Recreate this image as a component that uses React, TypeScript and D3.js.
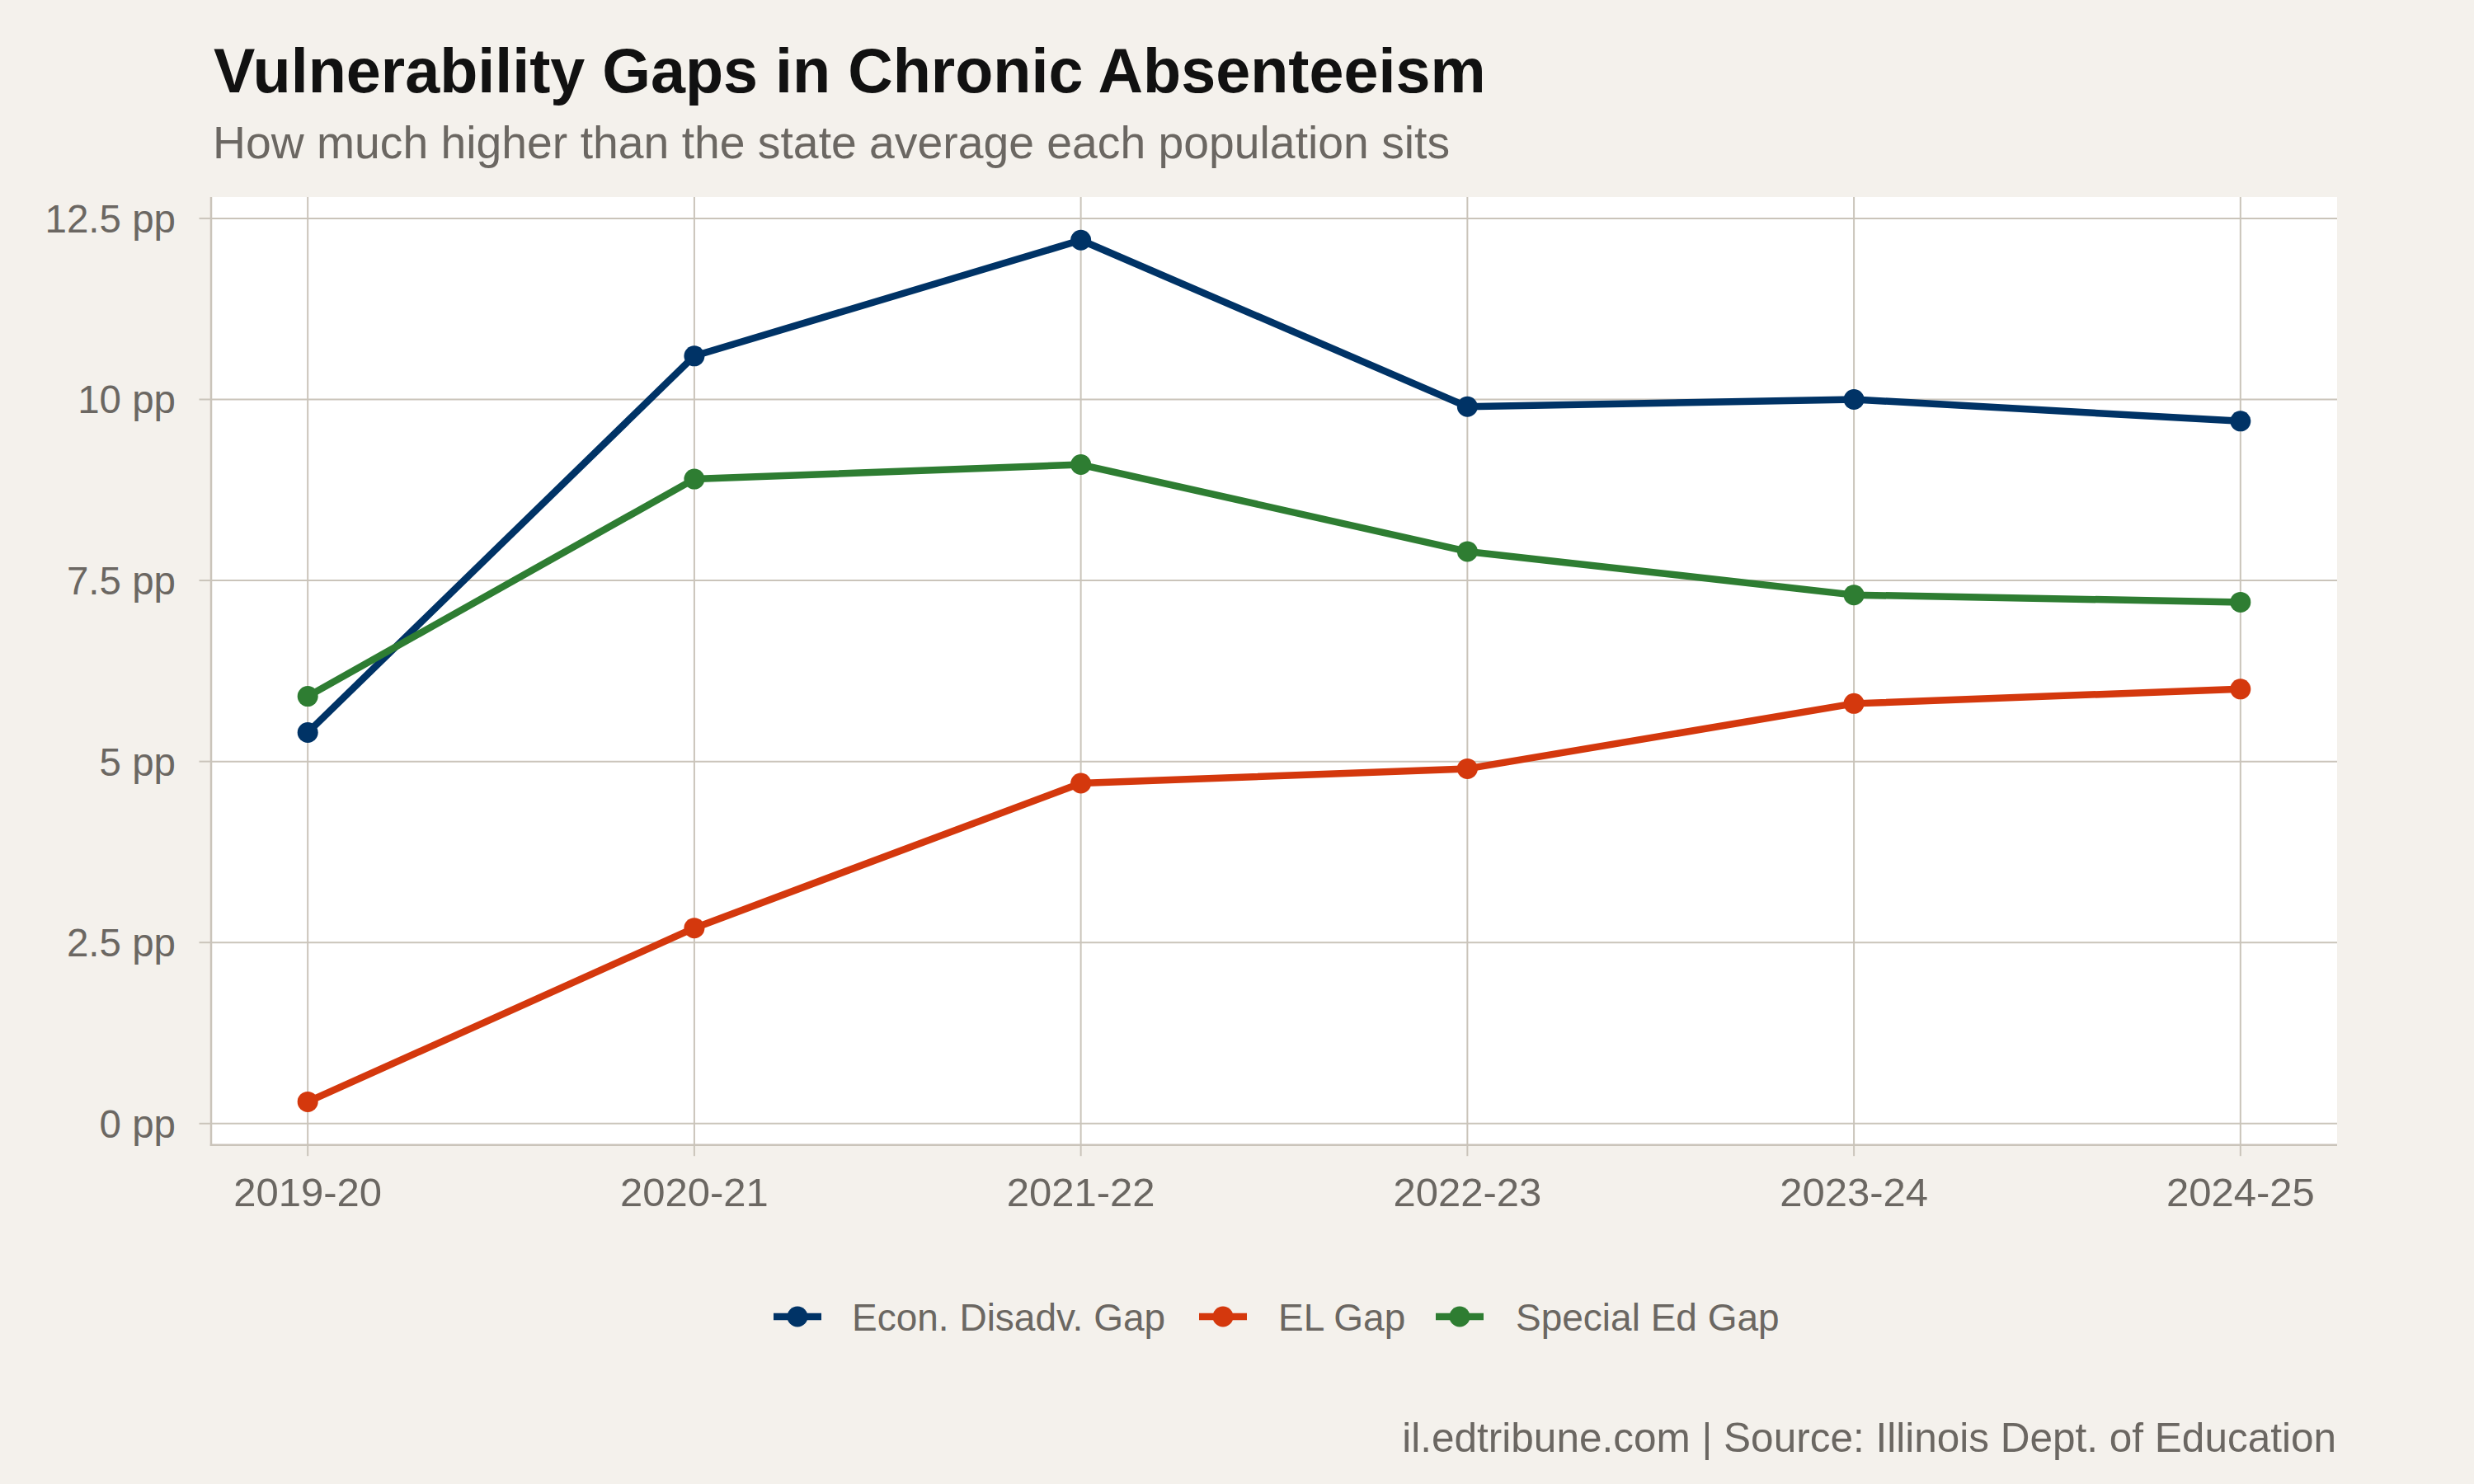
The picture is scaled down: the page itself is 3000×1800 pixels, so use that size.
import React from "react";
import * as d3 from "d3";

// School years on the x axis
const seasons = ["2019-20", "2020-21", "2021-22", "2022-23", "2023-24", "2024-25"];

// Gap (percentage points) above the statewide chronic absenteeism rate
const econDisadvGap = [5.4, 10.6, 12.2, 9.9, 10.0, 9.7];
const elGap = [0.3, 2.7, 4.7, 4.9, 5.8, 6.0];
const specialEdGap = [5.9, 8.9, 9.1, 7.9, 7.3, 7.2];

const seriesNames = ["Econ. Disadv. Gap", "EL Gap", "Special Ed Gap"];
const seriesColors = ["#003366", "#D4380D", "#2E7D32"];

const yTicks = [0, 2.5, 5, 7.5, 10, 12.5];

const W = 3000;
const H = 1800;
const FONT = "'Liberation Sans', Arial, Helvetica, sans-serif";
const BG = "#F4F1EC";
const GRID = "#CAC4BA";
const TEXT_GRAY = "#6B6762";
const LINE_W = 8.5;
const DOT_R = 12.5;

const panel = { left: 256, right: 2834, top: 239, bottom: 1388.7 };

export default function App() {
  const series = [econDisadvGap, elGap, specialEdGap].map((values, i) => ({
    name: seriesNames[i],
    color: seriesColors[i],
    values,
  }));

  const x = d3
    .scalePoint<string>()
    .domain(seasons)
    .range([panel.left, panel.right])
    .padding(0.25);

  const all = series.flatMap((s) => s.values);
  const lo = d3.min(all)!;
  const hi = d3.max(all)!;
  const pad = (hi - lo) * 0.05;
  const y = d3
    .scaleLinear()
    .domain([lo - pad, hi + pad])
    .range([panel.bottom, panel.top]);

  const line = d3
    .line<number>()
    .x((_, i) => x(seasons[i])!)
    .y((d) => y(d));

  const fmt = (v: number) => `${v} pp`;

  // legend layout: key glyph + label per series
  const legendItems = [
    { keyX: 938, textX: 1033 },
    { keyX: 1454, textX: 1550 },
    { keyX: 1741, textX: 1838 },
  ];
  const legendY = 1597;

  return (
    <svg
      width={W}
      height={H}
      viewBox={`0 0 ${W} ${H}`}
      style={{ position: "absolute", left: 0, top: 0, display: "block" }}
      fontFamily={FONT}
    >
      <rect x={0} y={0} width={W} height={H} fill={BG} />

      {/* title and subtitle */}
      <text x={259} y={111.5} fontSize={75.5} fontWeight="bold" fill="#111111">
        Vulnerability Gaps in Chronic Absenteeism
      </text>
      <text x={258} y={191.5} fontSize={55.3} fill={TEXT_GRAY}>
        How much higher than the state average each population sits
      </text>

      {/* plot panel */}
      <rect
        x={panel.left}
        y={panel.top}
        width={panel.right - panel.left}
        height={panel.bottom - panel.top}
        fill="#FFFFFF"
      />

      {/* gridlines */}
      {yTicks.map((t) => (
        <line
          key={`gy${t}`}
          x1={panel.left}
          x2={panel.right}
          y1={y(t)}
          y2={y(t)}
          stroke={GRID}
          strokeWidth={2}
        />
      ))}
      {seasons.map((s) => (
        <line
          key={`gx${s}`}
          x1={x(s)}
          x2={x(s)}
          y1={panel.top}
          y2={panel.bottom}
          stroke={GRID}
          strokeWidth={2}
        />
      ))}

      {/* axis lines */}
      <line
        x1={panel.left}
        x2={panel.left}
        y1={panel.top}
        y2={panel.bottom + 1.2}
        stroke={GRID}
        strokeWidth={2.5}
      />
      <line
        x1={panel.left - 1.2}
        x2={panel.right}
        y1={panel.bottom}
        y2={panel.bottom}
        stroke={GRID}
        strokeWidth={2.5}
      />

      {/* y ticks and labels */}
      {yTicks.map((t) => (
        <g key={`ty${t}`}>
          <line
            x1={panel.left - 14.5}
            x2={panel.left}
            y1={y(t)}
            y2={y(t)}
            stroke={GRID}
            strokeWidth={2}
          />
          <text
            x={213}
            y={y(t) + 17}
            fontSize={47.5}
            textAnchor="end"
            fill={TEXT_GRAY}
          >
            {fmt(t)}
          </text>
        </g>
      ))}

      {/* x ticks and labels */}
      {seasons.map((s) => (
        <g key={`tx${s}`}>
          <line
            x1={x(s)}
            x2={x(s)}
            y1={panel.bottom}
            y2={panel.bottom + 13.5}
            stroke={GRID}
            strokeWidth={2}
          />
          <text
            x={x(s)}
            y={1463}
            fontSize={49}
            textAnchor="middle"
            fill={TEXT_GRAY}
          >
            {s}
          </text>
        </g>
      ))}

      {/* series lines and points */}
      {series.map((s) => (
        <g key={s.name}>
          <path
            d={line(s.values) ?? ""}
            fill="none"
            stroke={s.color}
            strokeWidth={LINE_W}
            strokeLinejoin="round"
          />
          {s.values.map((v, i) => (
            <circle
              key={i}
              cx={x(seasons[i])}
              cy={y(v)}
              r={DOT_R}
              fill={s.color}
            />
          ))}
        </g>
      ))}

      {/* legend */}
      {series.map((s, i) => (
        <g key={`lg${s.name}`}>
          <line
            x1={legendItems[i].keyX}
            x2={legendItems[i].keyX + 58}
            y1={legendY}
            y2={legendY}
            stroke={s.color}
            strokeWidth={LINE_W}
          />
          <circle cx={legendItems[i].keyX + 29} cy={legendY} r={DOT_R} fill={s.color} />
          <text
            x={legendItems[i].textX}
            y={1613.5}
            fontSize={46}
            fill={TEXT_GRAY}
          >
            {s.name}
          </text>
        </g>
      ))}

      {/* caption */}
      <text
        x={2833}
        y={1761}
        fontSize={49.5}
        textAnchor="end"
        fill={TEXT_GRAY}
      >
        il.edtribune.com | Source: Illinois Dept. of Education
      </text>
    </svg>
  );
}
